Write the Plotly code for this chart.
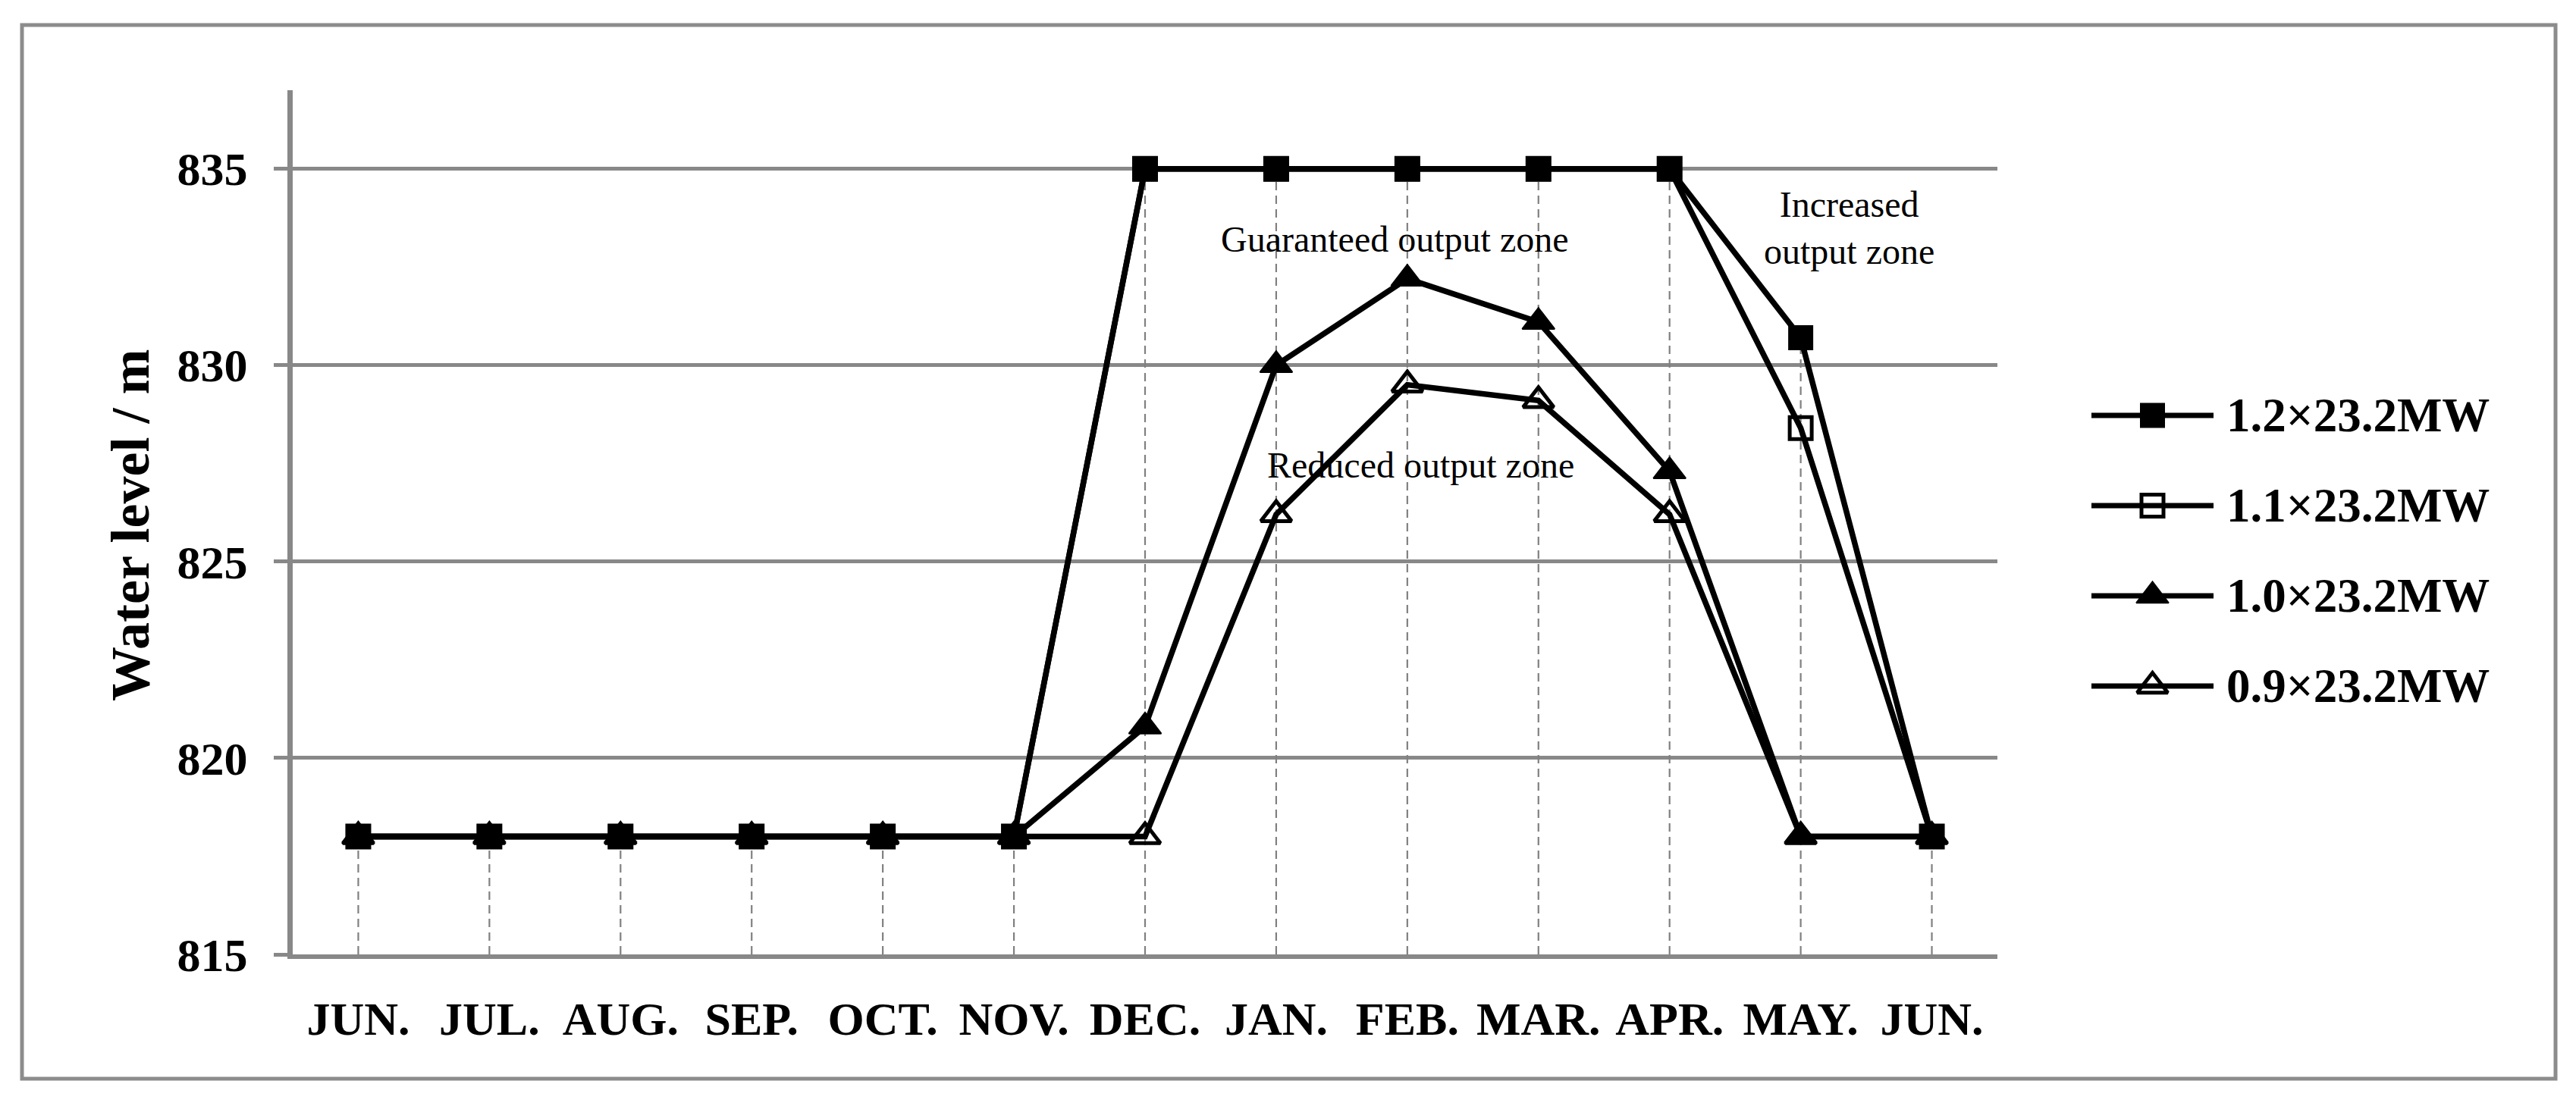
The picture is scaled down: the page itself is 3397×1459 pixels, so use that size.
import plotly.graph_objects as go

# chart data
months = ["JUN.", "JUL.", "AUG.", "SEP.", "OCT.", "NOV.", "DEC.",
          "JAN.", "FEB.", "MAR.", "APR.", "MAY.", "JUN."]
level_12 = [818, 818, 818, 818, 818, 818, 835, 835, 835, 835, 835, 830.7, 818]
level_11 = [818, 818, 818, 818, 818, 818, 835, 835, 835, 835, 835, 828.4, 818]
level_10 = [818, 818, 818, 818, 818, 818, 820.8, 830.0, 832.2, 831.1, 827.3, 818, 818]
level_09 = [818, 818, 818, 818, 818, 818, 818, 826.2, 829.5, 829.1, 826.2, 818, 818]
series_names = ["1.2×23.2MW", "1.1×23.2MW", "1.0×23.2MW", "0.9×23.2MW"]
y_ticks = [815, 820, 825, 830, 835]

W, H = 3397, 1459
FONT = "Liberation Serif, Times New Roman, serif"
GRAY = "#888888"

series = [level_12, level_11, level_10, level_09]
symbols = ["square", "square-open", "triangle-up", "triangle-up-open"]
sizes = [31, 29, 37, 35]


def marker_style(sym, sz):
    is_open = "open" in sym
    return dict(symbol=sym, size=sz, color="black",
                line=dict(color="black", width=5 if is_open else 2))


x_idx = list(range(len(months)))
y_min = y_ticks[0]

fig = go.Figure()

# dashed drop lines from the highest point of each month down to the axis
drop_x, drop_y = [], []
for i in x_idx:
    top = max(s[i] for s in series)
    drop_x += [i, i, None]
    drop_y += [y_min, top, None]
fig.add_trace(go.Scatter(
    x=drop_x, y=drop_y, mode="lines", showlegend=False, hoverinfo="skip",
    line=dict(color="#808080", width=2.2, dash="11px,7px"),
))

for name, vals, sym, sz in zip(series_names, series, symbols, sizes):
    fig.add_trace(go.Scatter(
        x=x_idx, y=vals, name=name, mode="lines+markers", showlegend=False,
        line=dict(color="black", width=7.5),
        marker=marker_style(sym, sz),
    ))

# hand-built legend on a hidden pair of axes (long line with marker in middle)
for k, (name, sym, sz) in enumerate(zip(series_names, symbols, sizes)):
    row = len(series_names) - 1 - k
    fig.add_trace(go.Scatter(
        x=[0, 2], y=[row, row], mode="lines", xaxis="x2", yaxis="y2",
        showlegend=False, hoverinfo="skip",
        line=dict(color="black", width=7),
    ))
    fig.add_trace(go.Scatter(
        x=[1], y=[row], mode="markers", xaxis="x2", yaxis="y2",
        showlegend=False, hoverinfo="skip",
        marker=marker_style(sym, sz),
    ))
    fig.add_annotation(
        x=2934 / W, xref="paper", y=row, yref="y2", text=name,
        showarrow=False, xanchor="left", yanchor="middle",
        font=dict(family=FONT, size=63, color="black", weight="bold"),
    )

# zone labels
zone_font = dict(family=FONT, size=48, color="black")
fig.add_annotation(x=7.9, y=833.2, text="Guaranteed output zone",
                   showarrow=False, font=zone_font)
fig.add_annotation(x=8.1, y=827.45, text="Reduced output zone",
                   showarrow=False, font=zone_font)
fig.add_annotation(x=11.37, y=833.5, text="Increased<br>output zone",
                   showarrow=False, font=zone_font)

# y axis title
fig.add_annotation(
    x=172 / W, xref="paper", y=0.525, yref="paper", text="Water level / m",
    textangle=-90, showarrow=False, xanchor="center", yanchor="middle",
    font=dict(family=FONT, size=72, color="black", weight="bold"),
)

# outer frame
fig.add_shape(type="rect", xref="paper", yref="paper",
              x0=29 / W, x1=3370 / W, y0=(H - 1423) / H, y1=(H - 33) / H,
              line=dict(color="#8c8c8c", width=5), fillcolor="rgba(0,0,0,0)")

tick_font = dict(family=FONT, size=62, color="black", weight="bold")
fig.update_layout(
    width=W, height=H,
    margin=dict(l=0, r=0, t=0, b=0, autoexpand=False),
    paper_bgcolor="white", plot_bgcolor="white",
    font=dict(family=FONT, color="black"),
    showlegend=False,
    xaxis=dict(
        domain=[386 / W, 2634 / W],
        range=[-0.5, len(months) - 0.5],
        tickvals=x_idx, ticktext=months,
        showgrid=False, zeroline=False, automargin=False,
        showline=True, linecolor=GRAY, linewidth=6,
        ticks="", ticklabelstandoff=26,
        tickfont=tick_font,
    ),
    yaxis=dict(
        domain=[200 / H, 1340 / H],
        range=[815, 837],
        tickvals=y_ticks,
        showgrid=True, gridcolor=GRAY, gridwidth=5,
        zeroline=False, automargin=False,
        showline=True, linecolor=GRAY, linewidth=7,
        ticks="outside", ticklen=18, tickcolor=GRAY, tickwidth=5,
        ticklabelstandoff=22,
        tickfont=tick_font,
    ),
    xaxis2=dict(domain=[2758 / W, 2919 / W], range=[0, 2], visible=False,
                anchor="y2"),
    yaxis2=dict(domain=[(H - 964.5) / H, (H - 488.5) / H], range=[-0.5, 3.5],
                visible=False, anchor="x2"),
)

fig.write_html("out.html", config={"displayModeBar": False},
               post_script="document.body.style.margin='0';")
